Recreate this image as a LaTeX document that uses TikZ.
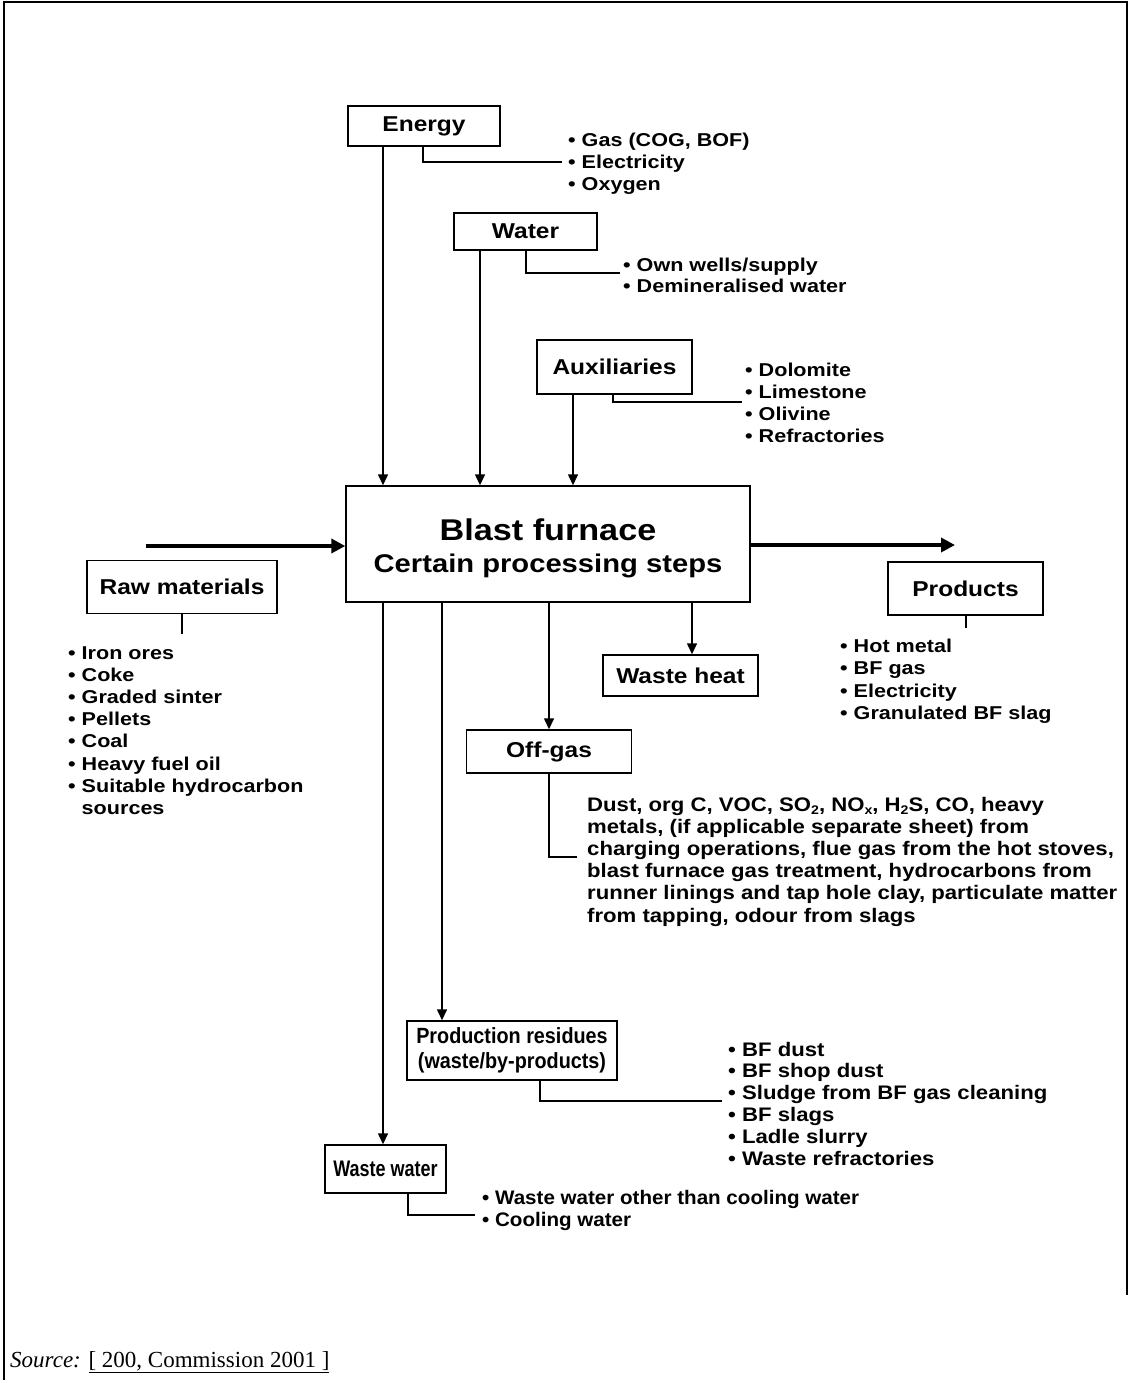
\documentclass[tikz,border=0pt]{standalone}
\usepackage{fontspec}
\setmainfont{Liberation Serif}
\newfontfamily\lsw[FakeStretch=1.14]{Liberation Sans}
\newfontfamily\lsl[FakeStretch=1.16]{Liberation Sans}
\newfontfamily\lsn[FakeStretch=1.05]{Liberation Sans}
\newfontfamily\lsm[FakeStretch=1.13]{Liberation Sans}
\newfontfamily\lsc[FakeStretch=0.9]{Liberation Sans}
\newfontfamily\lsd[FakeStretch=0.8]{Liberation Sans}
\usetikzlibrary{arrows.meta}
\newcommand\sbs[1]{\raisebox{-0.3ex}{\fontsize{12.5}{12.5}\selectfont #1}}
\begin{document}
\begin{tikzpicture}[x=1pt,y=-1pt,
  box/.style={draw, line width=1.4pt, inner sep=0pt, align=center,
    font=\lsw\bfseries\fontsize{21.5}{25}\selectfont},
  nbox/.style={box, font=\lsc\bfseries\fontsize{22}{25}\selectfont},
  lst/.style={anchor=base west, inner sep=0pt, font=\lsl\bfseries\fontsize{18.6}{21}\selectfont},
  nlst/.style={anchor=base west, inner sep=0pt, font=\lsn\bfseries\fontsize{19.6}{21}\selectfont},
  mlst/.style={anchor=base west, inner sep=0pt, font=\lsm\bfseries\fontsize{19.6}{21}\selectfont},
  arr/.style={line width=1.4pt, -{Triangle[length=11pt,width=10pt]}},
  bigarr/.style={line width=3.6pt, -{Triangle[length=14pt,width=14pt]}},
  con/.style={line width=1.2pt}]
\useasboundingbox (0,0) rectangle (1129,1380);
% frame
\draw[line width=1.4pt] (4,1380) -- (4,2) -- (1127,2) -- (1127,1295);

% boxes
\node[box, minimum width=152pt, minimum height=40pt] (energy) at (424,126) {Energy};
\node[box, minimum width=143pt, minimum height=37pt] (water) at (525.5,231.5) {Water};
\node[box, minimum width=155pt, minimum height=54pt] (aux) at (614.5,367) {Auxiliaries};
\node[draw, line width=1.4pt, minimum width=404pt, minimum height=116pt, inner sep=0pt] (bf) at (548,544) {};
\node[anchor=base, inner sep=0pt, font=\lsw\bfseries\fontsize{30}{33}\selectfont] (bft1) at (548,540) {Blast furnace};
\node[anchor=base, inner sep=0pt, font=\lsw\bfseries\fontsize{25.6}{30}\selectfont] (bft2) at (548,572) {Certain processing steps};
\node[box, minimum width=190pt, minimum height=53pt] (raw) at (182,587) {Raw materials};
\node[box, minimum width=155pt, minimum height=53pt] (prod) at (965.5,588.5) {Products};
\node[box, minimum width=155pt, minimum height=41pt] (heat) at (680.5,675.5) {Waste heat};
\node[box, minimum width=165pt, minimum height=43pt] (off) at (549,751.5) {Off-gas};
\node[nbox, minimum width=210pt, minimum height=59pt] (res) at (512,1050.5) {Production residues\\(waste/by-products)};
\node[box, font=\lsd\bfseries\fontsize{22.5}{25}\selectfont, minimum width=121pt, minimum height=48pt] (ww) at (385.5,1169) {Waste water};

% helper x positions
\coordinate (xa) at (383,0);
\coordinate (xb) at (480,0);
\coordinate (xc) at (573,0);
\coordinate (xd) at (442,0);
\coordinate (xe) at (549,0);
\coordinate (xf) at (692,0);

% input arrows
\draw[arr] (energy.south -| xa) -- (bf.north -| xa);
\draw[arr] (water.south -| xb) -- (bf.north -| xb);
\draw[arr] (aux.south -| xc) -- (bf.north -| xc);
% output arrows
\draw[arr] (bf.south -| xa) -- (ww.north -| xa);
\draw[arr] (bf.south -| xd) -- (res.north -| xd);
\draw[arr] (bf.south -| xe) -- (off.north -| xe);
\draw[arr] (bf.south -| xf) -- (heat.north -| xf);
% main flow
\coordinate (inL) at (146,546);
\coordinate (outR) at (955,545);
\draw[bigarr] (inL) -- (inL -| bf.west);
\draw[bigarr] (bf.east |- outR) -- (outR);

% connectors
\coordinate (cen) at (423,0);   \coordinate (cenE) at (562,162);
\draw[con] (energy.south -| cen) |- (cenE);
\coordinate (cwa) at (526,0);   \coordinate (cwaE) at (620,273);
\draw[con] (water.south -| cwa) |- (cwaE);
\coordinate (cau) at (613,0);   \coordinate (cauE) at (742,402);
\draw[con] (aux.south -| cau) |- (cauE);
\coordinate (crwE) at (182,634);
\draw[con] (raw.south) -- (crwE);
\coordinate (cprE) at (966,628);
\draw[con] (prod.south -| cprE) -- (cprE);
\coordinate (cofE) at (577,857);
\draw[con] (off.south) |- (cofE);
\coordinate (cre) at (540,0);   \coordinate (creE) at (722,1101);
\draw[con] (res.south -| cre) |- (creE);
\coordinate (cww) at (408,0);   \coordinate (cwwE) at (475,1215);
\draw[con] (ww.south -| cww) |- (cwwE);

% lists
\foreach \t [count=\i from 0] in {{• Gas (COG, BOF)},{• Electricity},{• Oxygen}}
  \node[lst] (le\i) at (568,{147+22*\i}) {\t};
\foreach \t [count=\i from 0] in {{• Own wells/supply},{• Demineralised water}}
  \node[lst] (lw\i) at (623,{271+21.5*\i}) {\t};
\foreach \t [count=\i from 0] in {{• Dolomite},{• Limestone},{• Olivine},{• Refractories}}
  \node[lst] (la\i) at (745,{376+22*\i}) {\t};
\foreach \t [count=\i from 0] in {{• Iron ores},{• Coke},{• Graded sinter},{• Pellets},{• Coal},{• Heavy fuel oil},{• Suitable hydrocarbon},{\phantom{• }sources}}
  \node[lst] (lr\i) at (68,{659+22.2*\i}) {\t};
\foreach \t [count=\i from 0] in {{• Hot metal},{• BF gas},{• Electricity},{• Granulated BF slag}}
  \node[lst] (lp\i) at (840,{652+22.6*\i}) {\t};
\foreach \t [count=\i from 0] in {{Dust, org C, VOC, SO\sbs{2}, NO\sbs{x}, H\sbs{2}S, CO, heavy},{metals, (if applicable separate sheet) from},{charging operations, flue gas from the hot stoves,},{blast furnace gas treatment, hydrocarbons from},{runner linings and tap hole clay, particulate matter},{from tapping, odour from slags}}
  \node[mlst] (lo\i) at (587,{811+22.2*\i}) {\t};
\foreach \t [count=\i from 0] in {{• BF dust},{• BF shop dust},{• Sludge from BF gas cleaning},{• BF slags},{• Ladle slurry},{• Waste refractories}}
  \node[mlst] (ls\i) at (728,{1056+21.8*\i}) {\t};
\foreach \t [count=\i from 0] in {{• Waste water other than cooling water},{• Cooling water}}
  \node[nlst] (lx\i) at (482,{1204+22*\i}) {\t};

% source
\node[anchor=base west, inner sep=0pt, font=\fontsize{23}{26}\selectfont] (src) at (10,1367) {\textit{Source:} \underline{[ 200, Commission 2001 ]}};
\end{tikzpicture}
\end{document}
